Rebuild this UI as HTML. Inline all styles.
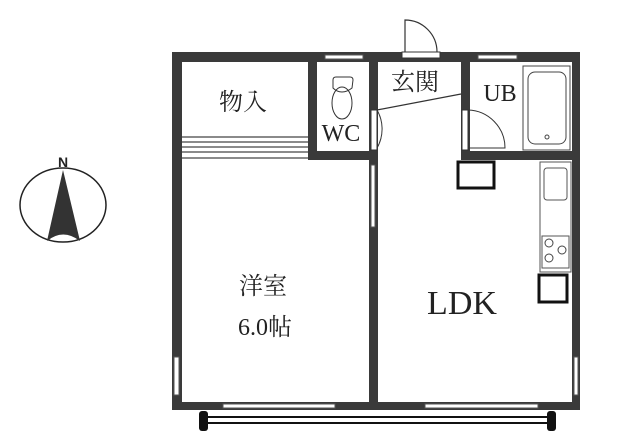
<!DOCTYPE html>
<html><head><meta charset="utf-8"><style>
body{margin:0;background:#fff;}
svg{display:block;}
text{font-family:"Liberation Serif","Noto Serif CJK JP","Noto Serif CJK SC",serif;fill:#222;}
</style></head><body>
<svg width="640" height="433" viewBox="0 0 640 433" xmlns="http://www.w3.org/2000/svg">
<ellipse cx="63" cy="205" rx="43" ry="37" fill="none" stroke="#222" stroke-width="1.5"/>
<path d="M63 170 L80 241 Q63 228 47 241 Z" fill="#333"/>
<text x="63" y="167" font-weight="bold" font-size="14" text-anchor="middle" style="font-family:'Liberation Sans',sans-serif">N</text>
<g fill="#3a3a3a">
<rect x="172" y="52" width="408" height="10"/>
<rect x="172" y="52" width="10" height="358"/>
<rect x="572" y="52" width="8" height="358"/>
<rect x="172" y="402" width="408" height="8"/>
<rect x="308" y="62" width="9" height="98"/>
<rect x="308" y="151" width="70" height="9"/>
<rect x="369" y="62" width="9" height="348"/>
<rect x="461" y="62" width="9" height="98"/>
<rect x="461" y="151" width="119" height="9"/>
</g>
<g fill="#fff" stroke="#555" stroke-width="1">
<rect x="325" y="55" width="38" height="4"/>
<rect x="478" y="55" width="39" height="4"/>
<rect x="223" y="404" width="112" height="4"/>
<rect x="425" y="404" width="113" height="4"/>
<rect x="174" y="357" width="5" height="38"/>
<rect x="574" y="357" width="4" height="38"/>
<rect x="371" y="165" width="4" height="62"/>
</g>
<rect x="402" y="52" width="38" height="6" fill="#fff" stroke="#333"/>
<path d="M405 52 L405 20 A32 32 0 0 1 437 52" fill="none" stroke="#333" stroke-width="1.2"/>
<g stroke="#444" stroke-width="1.2">
<line x1="182" y1="137" x2="308" y2="137"/><line x1="182" y1="142" x2="308" y2="142"/>
<line x1="182" y1="147" x2="308" y2="147"/><line x1="182" y1="152" x2="308" y2="152"/>
<line x1="182" y1="158" x2="308" y2="158"/>
</g>
<rect x="371" y="110" width="6" height="40" fill="#fff" stroke="#333"/>
<path d="M377 110 A38 38 0 0 1 377 148" fill="none" stroke="#333"/>
<line x1="377" y1="110" x2="461" y2="94" stroke="#333" stroke-width="1.2"/>
<rect x="462" y="110" width="6" height="40" fill="#fff" stroke="#333"/>
<path d="M468 110 A38 38 0 0 1 505 148 L468 148" fill="none" stroke="#333"/>
<path d="M333 80 Q333 77 336 77 L350 77 Q353 77 353 80 L352 88 Q347 92 342 92 Q337 92 333 88 Z" fill="none" stroke="#333"/>
<ellipse cx="342" cy="103" rx="10" ry="16" fill="none" stroke="#333"/>
<rect x="523" y="66" width="47" height="84" fill="none" stroke="#444"/>
<rect x="528" y="72" width="38" height="72" rx="7" fill="none" stroke="#444"/>
<circle cx="547" cy="137" r="2" fill="none" stroke="#444"/>
<rect x="458" y="162" width="36" height="26" fill="none" stroke="#111" stroke-width="3"/>
<rect x="540" y="162" width="31" height="110" fill="none" stroke="#555"/>
<rect x="544" y="168" width="23" height="32" rx="3" fill="none" stroke="#555"/>
<rect x="542" y="236" width="27" height="32" fill="none" stroke="#555"/>
<circle cx="549" cy="243" r="4" fill="none" stroke="#444"/>
<circle cx="562" cy="250" r="4" fill="none" stroke="#444"/>
<circle cx="549" cy="258" r="4" fill="none" stroke="#444"/>
<rect x="539" y="275" width="28" height="27" fill="none" stroke="#111" stroke-width="3"/>
<rect x="203" y="417" width="349" height="6" fill="#fff" stroke="#111" stroke-width="2"/>
<rect x="199" y="411" width="9" height="20" rx="3" fill="#111"/>
<rect x="547" y="411" width="9" height="20" rx="3" fill="#111"/>
<text x="243" y="110" font-size="24" text-anchor="middle">物入</text>
<text x="341" y="141" font-size="24" text-anchor="middle">WC</text>
<text x="415" y="90" font-size="24" text-anchor="middle">玄関</text>
<text x="500" y="101" font-size="24" text-anchor="middle">UB</text>
<text x="263" y="294" font-size="24" text-anchor="middle">洋室</text>
<text x="265" y="335" font-size="24" text-anchor="middle">6.0帖</text>
<text x="462" y="314" font-size="34" text-anchor="middle">LDK</text>
</svg>
</body></html>
